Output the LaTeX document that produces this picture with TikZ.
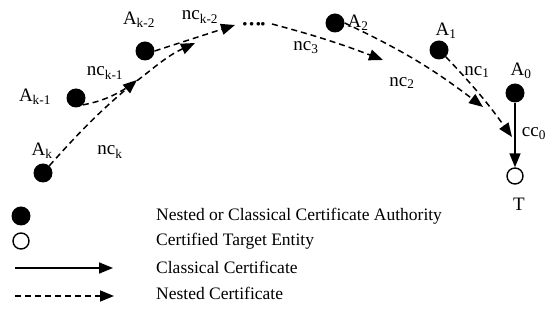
\documentclass[tikz,border=0pt]{standalone}
\usepackage{fontspec}
\setmainfont{Liberation Serif}
\usetikzlibrary{arrows.meta}

\tikzset{
  ca/.style={circle, fill=black, inner sep=0pt, minimum size=19pt},
  target/.style={circle, draw=black, line width=1.4pt, fill=white, inner sep=0pt, minimum size=16pt},
  lbl/.style={inner sep=0pt, font=\fontsize{19}{22}\selectfont},
  keytext/.style={inner sep=0pt, anchor=west, font=\fontsize{17.5}{20}\selectfont},
  tip/.style={-{Triangle[length=14pt,width=11pt]}},
  nested/.style={tip, line width=1.5pt, dash pattern=on 6pt off 4pt},
  classical/.style={tip, line width=1.6pt},
}

\begin{document}
\begin{tikzpicture}[x=1pt, y=-1pt]
\useasboundingbox (0,0) rectangle (552,328);

% certificate authorities along the chain
\node[ca] (ak)  at (43,173) {};
\node[ca] (ak1) at (76,98) {};
\node[ca] (ak2) at (145,51) {};
\node[ca] (a2)  at (335,23) {};
\node[ca] (a1)  at (439,50) {};
\node[ca] (a0)  at (515,93) {};
\node[target] (t) at (515,176) {};

% the gap in the chain
\node[inner sep=0pt, font=\fontsize{9.5}{10}\selectfont] (gap) at (254,24)
  {$\bullet\bullet\bullet\bullet$};
\coordinate (gapend) at (272,24);

% free ends of the nested certificates
\coordinate (ek)  at (137,80);
\coordinate (ek1) at (195,43);
\coordinate (ek2) at (235,25);
\coordinate (e3)  at (383,60);
\coordinate (e2)  at (483,107);
\coordinate (e1)  at (512,137);

% nested certificates
\draw[nested] (ak) to[bend left=4] (ek);
\draw[nested] (ak1.south east) to[out=10, in=205] (ek1);
\draw[nested] (ak2.east) -- (ek2);
\draw[nested] (gapend) to[bend left=3] (e3);
\draw[nested] (a2.east) to[bend left=6] (e2);
\draw[nested] (a1.south east) to[bend left=4] (e1);

% classical certificate
\draw[classical] (a0) -- (t);

% names of the entities
\node[lbl] (lak)  at (42,151) {A\textsubscript{k}};
\node[lbl] (lak1) at (35,97) {A\textsubscript{k-1}};
\node[lbl] (lak2) at (139,20) {A\textsubscript{k-2}};
\node[lbl] (la2)  at (358,23) {A\textsubscript{2}};
\node[lbl] (la1)  at (446,31) {A\textsubscript{1}};
\node[lbl] (la0)  at (521,71) {A\textsubscript{0}};
\node[lbl] (lt)   at (519,204) {T};

% names of the certificates
\node[lbl] (lnck)  at (110,152) {nc\textsubscript{k}};
\node[lbl] (lnck1) at (105,73) {nc\textsubscript{k-1}};
\node[lbl] (lnck2) at (200,17) {nc\textsubscript{k-2}};
\node[lbl] (lnc3)  at (306,48) {nc\textsubscript{3}};
\node[lbl] (lnc2)  at (402,83) {nc\textsubscript{2}};
\node[lbl] (lnc1)  at (477,72) {nc\textsubscript{1}};
\node[lbl] (lcc0)  at (534,134) {cc\textsubscript{0}};

% legend
\node[ca] (kca) at (21,216) {};
\node[target] (kt) at (21,241) {};
\coordinate (kc1) at (15,268);
\coordinate (kc2) at (113,268);
\coordinate (kn1) at (15,296);
\coordinate (kn2) at (114,296);
\draw[classical] (kc1) -- (kc2);
\draw[nested] (kn1) -- (kn2);
\node[keytext] (tca) at (156,216) {Nested or Classical Certificate Authority};
\node[keytext] (tt)  at (156,241) {Certified Target Entity};
\node[keytext] (tc)  at (156,267) {Classical Certificate};
\node[keytext] (tn)  at (156,293) {Nested Certificate};
\end{tikzpicture}
\end{document}
